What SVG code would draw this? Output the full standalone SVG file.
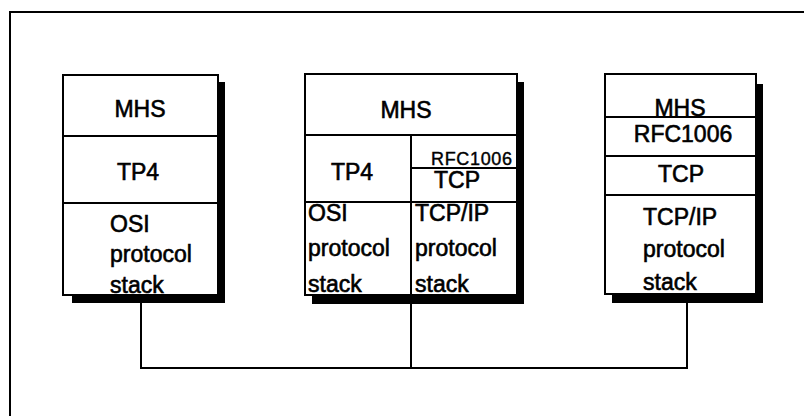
<svg xmlns="http://www.w3.org/2000/svg" width="804" height="416" viewBox="0 0 804 416">
<style>
.box{fill:#fff;stroke:#000;stroke-width:2}
.ln{stroke:#000;stroke-width:2;fill:none}
.sh{fill:#000}
text{font-family:"Liberation Sans",Arial,sans-serif;font-size:23px;fill:#000;stroke:#000;stroke-width:0.6}
.c{text-anchor:middle}
.s{font-size:18px;stroke-width:0.4}
</style>
<rect width="804" height="416" fill="#fff"/>
<g id="frame">
<path class="ln" d="M10,416 V12 H804"/>
</g>
<g id="stack-osi">
<rect class="sh" x="218" y="82" width="7" height="221"/>
<rect class="sh" x="72" y="295" width="153" height="8"/>
<rect class="box" x="63" y="75" width="155" height="220"/>
<path class="ln" d="M63,136 H218 M63,203 H218"/>
<text class="c" x="140" y="117">MHS</text>
<text class="c" x="138" y="180">TP4</text>
<text x="110" y="232">OSI</text>
<text x="110" y="262">protocol</text>
<text x="110" y="293">stack</text>
</g>
<g id="stack-gateway">
<rect class="sh" x="517" y="82" width="7" height="222"/>
<rect class="sh" x="312" y="295" width="212" height="9"/>
<rect class="box" x="305" y="74" width="212" height="221"/>
<path class="ln" d="M305,135 H517 M411,135 V295 M411,168 H517 M305,202 H517"/>
<text class="c" x="406" y="118">MHS</text>
<text class="c" x="352" y="180">TP4</text>
<text class="s" x="431" y="165" textLength="81">RFC1006</text>
<text class="c" x="457" y="188">TCP</text>
<text x="308" y="221">OSI</text>
<text x="308" y="256">protocol</text>
<text x="308" y="292">stack</text>
<text x="415" y="221">TCP/IP</text>
<text x="415" y="256">protocol</text>
<text x="415" y="292">stack</text>
</g>
<g id="stack-tcpip">
<rect class="sh" x="756" y="84" width="7" height="219"/>
<rect class="sh" x="612" y="294" width="151" height="9"/>
<rect class="box" x="605" y="74" width="151" height="220"/>
<path class="ln" d="M605,117 H756 M605,156 H756 M605,195 H756"/>
<text class="c" x="680" y="116">MHS</text>
<text class="c" x="683" y="142">RFC1006</text>
<text class="c" x="681" y="182">TCP</text>
<text x="643" y="225">TCP/IP</text>
<text x="643" y="257">protocol</text>
<text x="643" y="290">stack</text>
</g>
<g id="connectors">
<path class="ln" d="M141,303 V368 M411,304 V368 M687,303 V368 M140,368 H688"/>
</g>
</svg>
